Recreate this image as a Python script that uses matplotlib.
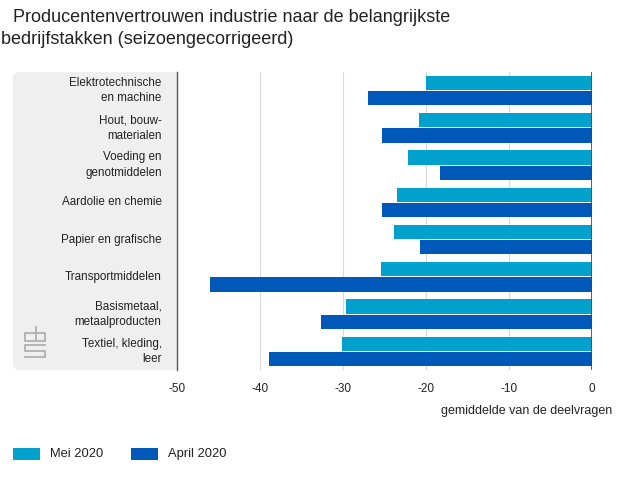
import numpy as np
import matplotlib.pyplot as plt
from matplotlib.patches import FancyBboxPatch, Rectangle

plt.rcParams["font.family"] = ["Liberation Sans", "DejaVu Sans"]

# Gegevens
categories = [
    "Elektrotechnische\nen machine",
    "Hout, bouw-\nmaterialen",
    "Voeding en\ngenotmiddelen",
    "Aardolie en chemie",
    "Papier en grafische",
    "Transportmiddelen",
    "Basismetaal,\nmetaalproducten",
    "Textiel, kleding,\nleer",
]
mei_2020 = [-20.0, -20.9, -22.2, -23.5, -23.9, -25.4, -29.6, -30.1]
april_2020 = [-27.0, -25.3, -18.3, -25.3, -20.7, -46.0, -32.7, -38.9]
xticks = [-50, -40, -30, -20, -10, 0]

c_mei = "#00a1cd"
c_april = "#0058b8"

W, H = 640, 480
fig = plt.figure(figsize=(6.4, 4.8), dpi=100)


def fx(px):
    return px / W


def fy(py):
    return 1 - py / H


# Grijs paneel achter de labels (links afgerond, rechts recht)
panel = FancyBboxPatch((fx(13), fy(370)), fx(177) - fx(13), fy(72) - fy(370),
                       boxstyle="round,pad=0,rounding_size=0.012",
                       transform=fig.transFigure, facecolor="#efefef",
                       edgecolor="none", zorder=-2)
fig.add_artist(panel)
fig.add_artist(Rectangle((fx(100), fy(370)), fx(77), fy(72) - fy(370),
                         transform=fig.transFigure, facecolor="#efefef",
                         edgecolor="none", zorder=-2))

ax = fig.add_axes([fx(177), fy(370), fx(592) - fx(177), fy(72) - fy(370)])
ax.set_facecolor("none")
ax.set_zorder(1)

y = np.arange(len(categories))
h = 0.38
ax.barh(y - 0.205, mei_2020, height=h, color=c_mei, zorder=3)
ax.barh(y + 0.205, april_2020, height=h, color=c_april, zorder=3)

ax.set_xlim(-50, 0)
ax.set_ylim(len(categories) - 0.5, -0.5)
ax.set_xticks(xticks)
ax.set_xticklabels([str(v) for v in xticks], fontsize=8.5, color="#222222")
ax.tick_params(axis="x", length=0, pad=9)
ax.set_yticks([])

for v in xticks[1:-1]:
    ax.axvline(v, color="#d9d9d9", linewidth=0.8, zorder=1)
ax.axvline(0, color="#444444", linewidth=1.2, zorder=4)

for s in ["top", "right", "bottom"]:
    ax.spines[s].set_visible(False)
ax.spines["left"].set_color("#555555")
ax.spines["left"].set_linewidth(1.0)

# Categorie labels
for i, lab in enumerate(categories):
    ax.text(-0.037, i, lab, transform=ax.get_yaxis_transform(), ha="right",
            va="center", fontsize=8.4, color="#222222", linespacing=1.4,
            clip_on=False)

ax.text(1.048, -0.137, "gemiddelde van de deelvragen", transform=ax.transAxes,
        ha="right", va="center", fontsize=9, color="#222222")

# Titel
fig.text(fx(13), fy(18), "Producentenvertrouwen industrie naar de belangrijkste",
         fontsize=13, va="center", ha="left", color="#222222")
fig.text(fx(1), fy(40), "bedrijfstakken (seizoengecorrigeerd)",
         fontsize=13, va="center", ha="left", color="#222222")

# Eenvoudig CBS-logo
lc = "#b0b0b0"
for seg in [
    [(34, 333), (25, 333), (25, 341), (34, 341)],
    [(36, 327), (36, 341), (45, 341), (45, 333), (36, 333)],
    [(45, 345), (25, 345), (25, 351), (45, 351), (45, 357), (25, 357)],
]:
    xs = [fx(p[0]) for p in seg]
    ys = [fy(p[1]) for p in seg]
    fig.add_artist(plt.Line2D(xs, ys, color=lc, linewidth=1.3,
                              transform=fig.transFigure))

# Legenda
fig.add_artist(Rectangle((fx(13), fy(460)), fx(27), fy(448) - fy(460),
                         transform=fig.transFigure, facecolor=c_mei,
                         edgecolor="none"))
fig.text(fx(50), fy(454), "Mei 2020", fontsize=9.3, va="center", color="#222222")
fig.add_artist(Rectangle((fx(131), fy(460)), fx(27), fy(448) - fy(460),
                         transform=fig.transFigure, facecolor=c_april,
                         edgecolor="none"))
fig.text(fx(168), fy(454), "April 2020", fontsize=9.3, va="center", color="#222222")

fig.savefig("out.png", dpi=100)
